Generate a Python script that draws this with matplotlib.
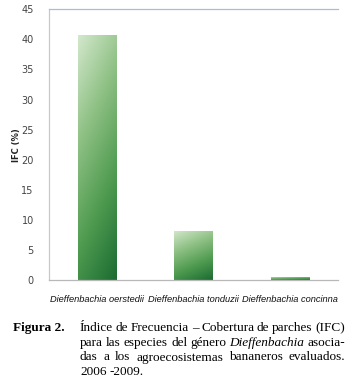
import numpy as np
import matplotlib
matplotlib.use('Agg')
import matplotlib.pyplot as plt
from matplotlib.colors import LinearSegmentedColormap

# Datos: IFC (%) por especie
especies = ['Dieffenbachia oerstedii', 'Dieffenbachia tonduzii', 'Dieffenbachia concinna']
ifc = [40.8, 8.2, 0.55]
yticks = [0, 5, 10, 15, 20, 25, 30, 35, 40, 45]

W, H = 352, 386
fig = plt.figure(figsize=(W / 100, H / 100), dpi=100)

# ejes en coordenadas de pixel
x0, x1 = 49, 338
ytop, ybot = 9.3, 280
ax = fig.add_axes([x0 / W, (H - ybot) / H, (x1 - x0) / W, (ybot - ytop) / H])

cmap = LinearSegmentedColormap.from_list('verde', ['#d3e8cc', '#8fc185', '#4f9b50', '#1b6c32'])

pos = np.arange(len(especies))
barras = ax.bar(pos, ifc, width=0.4, color='none', edgecolor='none')
for b in barras:
    bx, by = b.get_x(), b.get_y()
    bw, bh = b.get_width(), b.get_height()
    xf, yf = np.meshgrid(np.linspace(0, 1, 50), np.linspace(0, 1, 200))
    t = 0.25 * xf + 0.75 * (1 - yf)   # claro arriba-izquierda, oscuro abajo-derecha
    im = ax.imshow(t, cmap=cmap, extent=[bx, bx + bw, by, by + bh], origin='lower',
                   aspect='auto', vmin=0, vmax=1, zorder=2)
    im.set_clip_path(b)

ax.set_xlim(-0.5, len(especies) - 0.5)
ax.set_ylim(0, 45)
ax.set_yticks(yticks)
ax.set_xticks(pos)
ax.set_xticklabels(especies, style='italic', fontsize=6.7, color='#111111', family='Liberation Sans')
ax.tick_params(axis='y', length=0, pad=11, labelsize=7, labelcolor='#444444')
ax.tick_params(axis='x', length=0, pad=11)
for lab in ax.get_yticklabels():
    lab.set_fontfamily('Liberation Sans Narrow')

ax.spines['right'].set_visible(False)
ax.spines['left'].set_color('#c8c8c8')
ax.spines['bottom'].set_color('#b8b8b8')
ax.spines['top'].set_color('#a9bcd6')
for s in ax.spines.values():
    s.set_linewidth(0.9)

fig.text(16 / W, 1 - 145 / H, 'IFC (%)', rotation=90, fontsize=6, fontweight='bold',
         ha='center', va='center', color='#222222')

# Pie de figura (justificado a mano)
serif = 'Liberation Serif'
fs = 9.5
baselines = [331, 346, 360.5, 375]
fig.text(13 / W, 1 - baselines[0] / H, 'Figura 2.', fontsize=fs, fontweight='bold',
         family=serif, va='baseline', ha='left')

lineas = [
    ([('Índice', 'normal'), ('de', 'normal'), ('Frecuencia', 'normal'), ('–', 'normal'),
      ('Cobertura', 'normal'), ('de', 'normal'), ('parches', 'normal'), ('(IFC)', 'normal')], True),
    ([('para', 'normal'), ('las', 'normal'), ('especies', 'normal'), ('del', 'normal'),
      ('género', 'normal'), ('Dieffenbachia', 'italic'), ('asocia-', 'normal')], True),
    ([('das', 'normal'), ('a', 'normal'), ('los', 'normal'), ('agroecosistemas', 'normal'),
      ('bananeros', 'normal'), ('evaluados.', 'normal')], True),
    ([('2006', 'normal'), ('-2009.', 'normal')], False),
]
tx0, tx1 = 80, 345

renderer = fig.canvas.get_renderer()
for (palabras, just), yb in zip(lineas, baselines):
    textos = []
    for p, st in palabras:
        t = fig.text(0, 1 - yb / H, p, fontsize=fs, family=serif, style=st, va='baseline', ha='left')
        textos.append(t)
    anchos = [t.get_window_extent(renderer).width for t in textos]
    if just:
        gap = (tx1 - tx0 - sum(anchos)) / (len(textos) - 1)
    else:
        gap = 3.3
    x = tx0
    for t, a in zip(textos, anchos):
        t.set_x(x / W)
        x += a + gap

fig.savefig('out.png', dpi=100)
